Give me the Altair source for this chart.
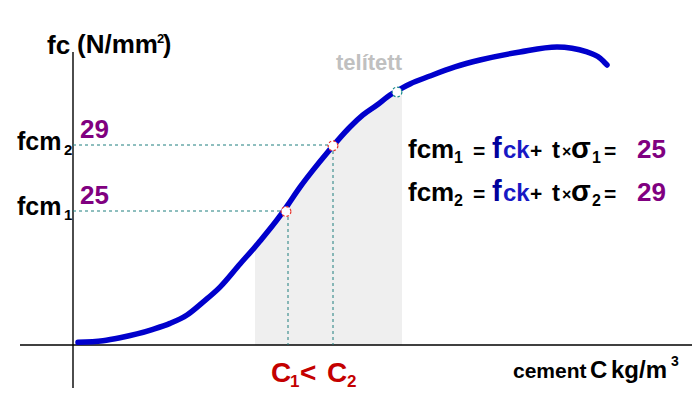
import altair as alt
import pandas as pd

# ---- data (schematic units) ----
cement = [5, 30, 47, 64, 80, 97, 114, 130, 147, 167, 182, 187, 207, 214, 227, 240,
          254, 265, 277, 290, 304, 317, 329, 337, 357, 382, 407, 447, 484, 514, 527, 534]
fc = [17.04, 17.14, 17.32, 17.55, 17.83, 18.19, 18.70, 19.48, 20.39, 21.79, 22.82,
      23.18, 24.70, 25.30, 26.45, 27.48, 28.52, 29.30, 30.09, 30.82, 31.42, 32.03,
      32.45, 32.70, 33.18, 33.73, 34.15, 34.64, 34.94, 34.64, 34.27, 33.85]
C_values = [215, 260]          # C1, C2
fcm_values = [25, 29]          # fcm1, fcm2
sat_c, sat_fc = 324, 32.21     # "telített" point
shade_from, shade_to = 182, 329
fc_base = 16.88                # level of the horizontal axis
x_axis_span = [-53, 619]
y_axis_span = [14.27, 34.64]

xs = alt.Scale(domain=[-73, 622], nice=False, zero=False)
ys = alt.Scale(domain=[12.879, 37.788], nice=False, zero=False)

curve = pd.DataFrame({"c": cement, "fc": fc})
shade = curve[(curve.c >= shade_from) & (curve.c <= shade_to)]

axes_df = pd.DataFrame({
    "x": [x_axis_span[0], 0], "x2": [x_axis_span[1], 0],
    "y": [fc_base, y_axis_span[1]], "y2": [fc_base, y_axis_span[0]],
})
guides = []
for c, f in zip(C_values, fcm_values):
    guides.append({"x": 0, "x2": c, "y": f, "y2": f})
    guides.append({"x": c, "x2": c, "y": f, "y2": fc_base})
guides_df = pd.DataFrame(guides)

pts_df = pd.DataFrame({
    "c": [C_values[0] - 2, C_values[1]] + [sat_c], "fc": [fcm_values[0] - 0.03, fcm_values[1] - 0.05] + [sat_fc],
    "col": ["#e8322a", "#e8322a", "#178a8a"],
})

X = lambda f: alt.X(f, scale=xs, axis=None)
Y = lambda f: alt.Y(f, scale=ys, axis=None)

area = alt.Chart(shade).mark_area(color="#efefef", interpolate="monotone").encode(
    x=X("c:Q"), y=Y("fc:Q"), y2=alt.datum(fc_base))

axes = alt.Chart(axes_df).mark_rule(color="black", strokeWidth=1.4).encode(
    x=X("x:Q"), x2="x2:Q", y=Y("y:Q"), y2="y2:Q")

guide_lines = alt.Chart(guides_df).mark_rule(
    color="#1f7f7f", strokeWidth=1, strokeDash=[3, 3]).encode(
    x=X("x:Q"), x2="x2:Q", y=Y("y:Q"), y2="y2:Q")

line = alt.Chart(curve).mark_line(
    color="#0000cc", strokeWidth=5.5, interpolate="monotone", strokeCap="round").encode(
    x=X("c:Q"), y=Y("fc:Q"))

points = alt.Chart(pts_df).mark_point(
    shape="circle", filled=False, fill="white", fillOpacity=1, size=95,
    strokeWidth=1.2, strokeDash=[2.5, 2]).encode(
    x=X("c:Q"), y=Y("fc:Q"), color=alt.Color("col:N", scale=None, legend=None))

# ---- text fragments (layout in pixels) ----
BLK, PUR, BLU1, BLU2, RED, GRY = "black", "#800080", "#00009c", "#1818c4", "#c40000", "#c0c0c0"
t = []
def add(s, px, py, size, color=BLK):
    t.append({"s": s, "px": px, "py": py, "size": size, "color": color})

add("fc", 47, 54, 26)
add("(N/mm", 77, 53, 26)
add("2", 157, 43, 13)
add(")", 163, 53, 25)
add("29", 80, 138, 26, PUR)
add("25", 80, 204, 26, PUR)
add("fcm", 17, 150, 25); add("2", 64, 155, 15)
add("fcm", 17, 215, 25); add("1", 64, 220, 15)
add("telített", 336, 70, 22, GRY)
for base, sub, val in [(158, "1", "25"), (201, "2", "29")]:
    add("fcm", 408, base, 26)
    add(sub, 454, base + 5, 16)
    add("=", 473, base, 21)
    add("f", 492, base, 29, BLU1)
    add("ck", 503, base, 24, BLU2)
    add("+", 530, base, 21)
    add("t", 552, base, 24)
    add("×", 562, base - 1, 16)
    add("σ", 571, base, 29)
    add(sub, 592, base + 5, 16)
    add("=", 604, base, 21)
    add(val, 637, base, 26, PUR)
add("C", 271, 382, 28, RED); add("1", 290, 387, 17, RED)
add("<", 300, 382, 28, RED)
add("C", 327, 382, 28, RED); add("2", 347, 387, 17, RED)
add("cement", 513, 378, 21)
add("C", 590, 378, 24)
add("kg/m", 611, 378, 24)
add("3", 671, 366, 14)
text_df = pd.DataFrame(t)

texts = alt.Chart(text_df).mark_text(
    align="left", baseline="alphabetic", font="Liberation Sans", fontWeight="bold").encode(
    x=alt.X("px:Q", scale=None, axis=None),
    y=alt.Y("py:Q", scale=None, axis=None),
    text="s:N",
    size=alt.Size("size:Q", scale=None, legend=None),
    color=alt.Color("color:N", scale=None, legend=None))

chart = alt.layer(area, axes, guide_lines, line, points, texts).properties(
    width=695, height=411, autosize=alt.AutoSizeParams(type="none"), padding=0,
    background="white").configure_view(stroke=None)

chart.save("out.html", embed_options={"renderer": "svg", "actions": False})
